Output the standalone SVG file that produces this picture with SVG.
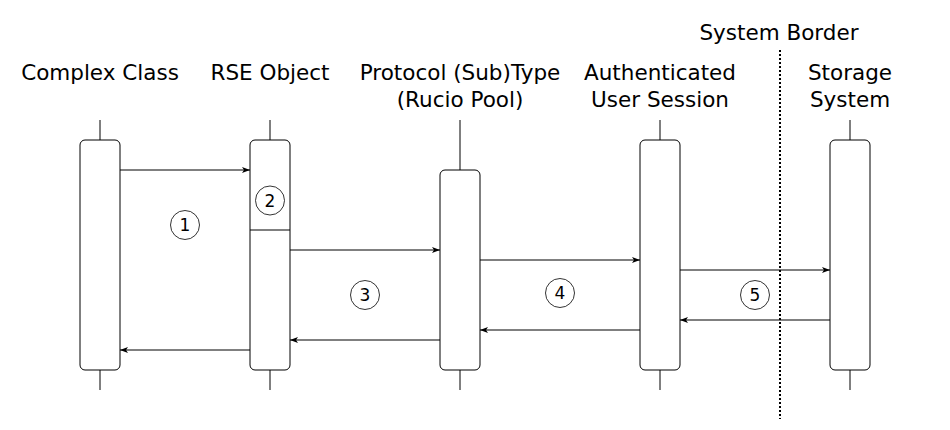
<svg xmlns="http://www.w3.org/2000/svg" width="950" height="430" viewBox="0 0 950 430">
<style>
text{font-family:"DejaVu Sans","Liberation Sans",sans-serif;fill:#000}
.lbl{font-size:21.5px;text-anchor:middle}
.num{font-size:17px;text-anchor:middle}
.box{fill:#fff;stroke:#000;stroke-width:1}
.life{stroke:#000;stroke-width:1}
.msg{stroke:#000;stroke-width:1;fill:none;marker-end:url(#ah)}
.circ{fill:none;stroke:#000;stroke-width:0.8}
</style>
<defs>
<marker id="ah" viewBox="0 0 8 6" refX="8" refY="3" markerWidth="8" markerHeight="6" markerUnits="userSpaceOnUse" orient="auto">
<path d="M0,0 L8,3 L0,6 L2,3 Z" fill="#000"/>
</marker>
</defs>
<rect width="950" height="430" fill="#fff"/>
<g id="complex-class">
<text class="lbl" x="100" y="80">Complex Class</text>
<line class="life" x1="100" y1="120" x2="100" y2="390"/>
<rect class="box" x="80" y="140" width="40" height="230" rx="5"/>
</g>
<g id="rse-object">
<text class="lbl" x="270" y="80">RSE Object</text>
<line class="life" x1="270" y1="120" x2="270" y2="390"/>
<rect class="box" x="250" y="140" width="40" height="230" rx="5"/>
<line class="life" x1="250" y1="230" x2="290" y2="230"/>
</g>
<g id="protocol-subtype">
<text class="lbl" x="460" y="80">Protocol (Sub)Type</text>
<text class="lbl" x="460" y="107">(Rucio Pool)</text>
<line class="life" x1="460" y1="120" x2="460" y2="390"/>
<rect class="box" x="440" y="170" width="40" height="200" rx="5"/>
</g>
<g id="auth-user-session">
<text class="lbl" x="660" y="80">Authenticated</text>
<text class="lbl" x="660" y="107">User Session</text>
<line class="life" x1="660" y1="120" x2="660" y2="390"/>
<rect class="box" x="640" y="140" width="40" height="230" rx="5"/>
</g>
<g id="storage-system">
<text class="lbl" x="850" y="80">Storage</text>
<text class="lbl" x="850" y="107">System</text>
<line class="life" x1="850" y1="120" x2="850" y2="390"/>
<rect class="box" x="830" y="140" width="40" height="230" rx="5"/>
</g>
<g id="system-border">
<text class="lbl" x="779" y="40">System Border</text>
<line x1="780" y1="50" x2="780" y2="419" stroke="#000" stroke-width="2" stroke-dasharray="2,2"/>
</g>
<g id="connectors">
<line class="msg" x1="120" y1="170" x2="250" y2="170"/>
<line class="msg" x1="250" y1="350" x2="120" y2="350"/>
<line class="msg" x1="290" y1="250" x2="440" y2="250"/>
<line class="msg" x1="440" y1="340" x2="290" y2="340"/>
<line class="msg" x1="480" y1="260" x2="640" y2="260"/>
<line class="msg" x1="640" y1="330" x2="480" y2="330"/>
<line class="msg" x1="680" y1="270" x2="830" y2="270"/>
<line class="msg" x1="830" y1="320" x2="680" y2="320"/>
</g>
<g id="step-labels">
<circle class="circ" cx="185" cy="225" r="14.5"/><text class="num" x="185" y="231">1</text>
<circle class="circ" cx="270" cy="200.5" r="14.5"/><text class="num" x="270" y="206.5">2</text>
<circle class="circ" cx="365" cy="295" r="14.5"/><text class="num" x="365" y="301">3</text>
<circle class="circ" cx="560" cy="293" r="14.5"/><text class="num" x="560" y="299">4</text>
<circle class="circ" cx="755" cy="295" r="14.5"/><text class="num" x="755" y="301">5</text>
</g>
</svg>
